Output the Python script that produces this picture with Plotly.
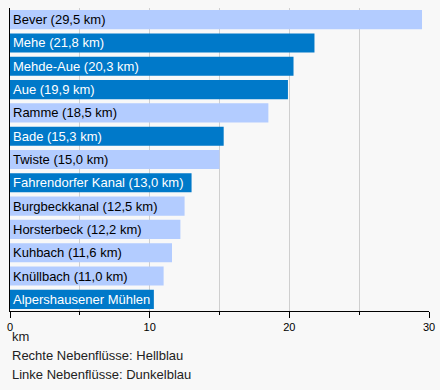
import plotly.graph_objects as go

names = ["Bever", "Mehe", "Mehde-Aue", "Aue", "Ramme", "Bade", "Twiste",
         "Fahrendorfer Kanal", "Burgbeckkanal", "Horsterbeck", "Kuhbach",
         "Knüllbach", "Alpershausener Mühlenbach"]
lengths = [29.5, 21.8, 20.3, 19.9, 18.5, 15.3, 15.0, 13.0, 12.5, 12.2, 11.6, 11.0, 10.3]
sides = ["R", "L", "L", "L", "R", "L", "R", "L", "R", "R", "R", "R", "L"]
# text as visible in the chart (last label is clipped by its bar)
bar_texts = ["Bever (29,5 km)", "Mehe (21,8 km)", "Mehde-Aue (20,3 km)", "Aue (19,9 km)",
             "Ramme (18,5 km)", "Bade (15,3 km)", "Twiste (15,0 km)",
             "Fahrendorfer Kanal (13,0 km)", "Burgbeckkanal (12,5 km)",
             "Horsterbeck (12,2 km)", "Kuhbach (11,6 km)", "Knüllbach (11,0 km)",
             "Alpershausener Mühlen"]
tick_vals = [0, 10, 20, 30]

LIGHT = "#b3ccff"
DARK = "#0079c9"

colors = [LIGHT if s == "R" else DARK for s in sides]
tcolors = ["#000000" if s == "R" else "#ffffff" for s in sides]
FONT = "Liberation Sans, Arial, sans-serif"

fig = go.Figure(go.Bar(
    x=lengths, y=names, orientation="h",
    marker=dict(color=colors, line=dict(width=0)),
    text=bar_texts, textposition="inside", insidetextanchor="start",
    constraintext="none", textangle=0,
    textfont=dict(family=FONT, size=13, color=tcolors),
    hoverinfo="skip",
))

BG = "#f8f8f8"
fig.update_layout(
    width=440, height=390,
    margin=dict(l=10, r=11, t=8, b=79, autoexpand=False),
    paper_bgcolor=BG, plot_bgcolor=BG,
    bargap=0.18, showlegend=False,
    font=dict(family=FONT, size=11, color="#000"),
    xaxis=dict(range=[0, 30], tickvals=tick_vals, ticktext=[str(t) for t in tick_vals],
               automargin=False,
               showgrid=True, gridcolor="#cfcfcf", gridwidth=1,
               ticks="outside", ticklen=6, tickcolor="#000",
               minor=dict(dtick=5, ticks="outside", ticklen=3, tickcolor="#000",
                          showgrid=True, gridcolor="#cfcfcf"),
               showline=True, linecolor="#000", linewidth=1,
               zeroline=False, tickfont=dict(size=11)),
    yaxis=dict(autorange="reversed", showticklabels=False, showgrid=False, automargin=False,
               showline=True, linecolor="#000", linewidth=1, ticks="", zeroline=False),
)

def py(pix):
    return (311 - pix) / 303

for txt, yp in [("km", 336), ("Rechte Nebenflüsse: Hellblau", 355),
                ("Linke Nebenflüsse: Dunkelblau", 375)]:
    fig.add_annotation(text=txt, xref="paper", yref="paper", x=0, y=py(yp),
                       xanchor="left", yanchor="middle", showarrow=False,
                       font=dict(size=13, color="#222"))

fig.write_html("out.html", config={"displayModeBar": False},
               post_script="document.body.style.margin='0';"
                           "document.body.style.overflow='hidden';"
                           "document.body.style.background='#f8f8f8';")
